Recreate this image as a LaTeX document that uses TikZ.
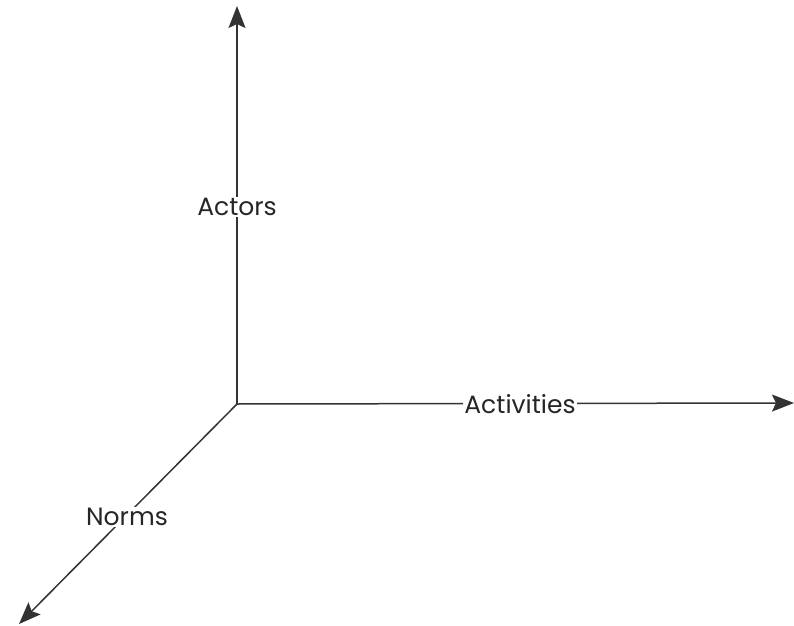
\documentclass[tikz,border=0pt]{standalone}
\usepackage{fontspec}
\setmainfont{Poppins}
\usetikzlibrary{arrows.meta}
\begin{document}
\begin{tikzpicture}[x=1pt,y=1pt,
  axis/.style={draw=black!80, line width=1.5pt, -{Stealth[length=22pt,width=17pt,inset=4pt]}},
  lbl/.style={fill=white, inner sep=1pt, font=\fontsize{25}{28}\selectfont, text=black!85}]
\useasboundingbox (0,0) rectangle (794,625);
\coordinate (O) at (237,221);
\coordinate (T) at (237,619);
\coordinate (R) at (794,222);
\coordinate (L) at (19,1);
\draw[axis] (O) -- (T);
\draw[axis] (O) -- (R);
\draw[axis] (O) -- (L);
\node[lbl] (actors) at (237,418) {Actors};
\node[lbl] (activities) at (520,221) {Activities};
\node[lbl] (norms) at (127,108) {Norms};
\end{tikzpicture}
\end{document}
